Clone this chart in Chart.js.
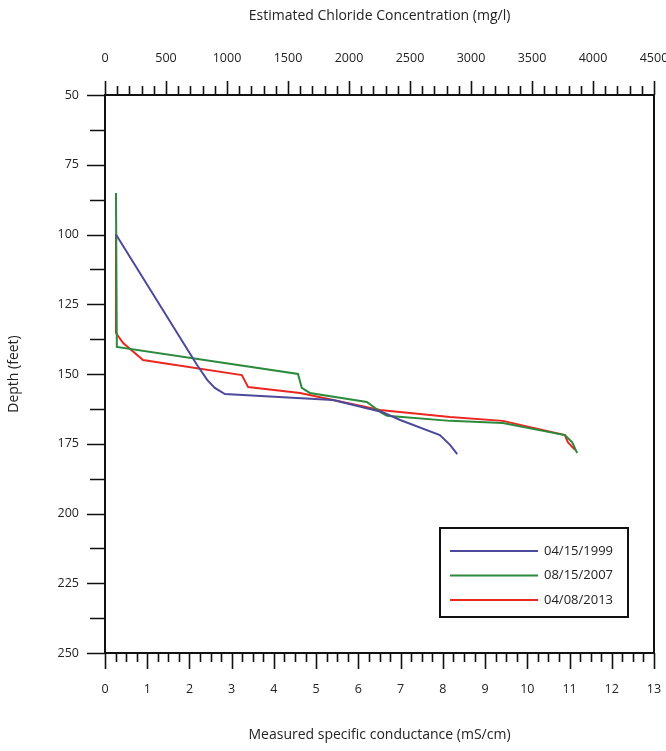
<!DOCTYPE html>
<html lang="en">
<head>
<meta charset="UTF-8">
<title>Specific conductance profile</title>
<script src="https://cdn.jsdelivr.net/npm/chart.js"></script>
<style>
  body { margin: 0; background: #fff; }
  #wrap { width: 666px; height: 751px; }
</style>
</head>
<body>
<div id="wrap"><canvas id="profile" width="666" height="751"></canvas></div>
<script>
// values: measured conductance (mS/cm) against depth (feet)
const labels = ['04/15/1999', '08/15/2007', '04/08/2013'];
const colors = ['#4b4a9c', '#2b8a3c', '#ea2721'];

const cond1999  = [0.26, 2.18, 2.42, 2.60, 2.84, 5.40, 6.56, 6.99, 7.93, 8.17, 8.34];
const depth1999 = [100, 146.8, 152.1, 155.0, 157.2, 159.3, 163.6, 166.5, 171.9, 175.4, 178.7];

const cond2007  = [0.26, 0.28, 4.57, 4.66, 4.85, 6.20, 6.56, 6.68, 8.17, 9.42, 10.89, 11.06, 11.18];
const depth2007 = [85.1, 140.3, 150.0, 155.0, 156.8, 160.0, 164.0, 165.0, 166.8, 167.6, 171.9, 174.4, 178.3];

const cond2013  = [0.26, 0.26, 0.43, 0.90, 3.24, 3.39, 4.62, 5.40, 6.51, 8.17, 9.42, 10.89, 10.96, 11.13];
const depth2013 = [99.8, 135.3, 138.9, 145.0, 150.4, 154.7, 156.8, 159.3, 162.9, 165.4, 166.8, 171.9, 174.4, 177.2];

// axis ticks
const condTicks     = [0, 1, 2, 3, 4, 5, 6, 7, 8, 9, 10, 11, 12, 13];
const chlorideTicks = [0, 500, 1000, 1500, 2000, 2500, 3000, 3500, 4000, 4500];
const depthTicks    = [50, 75, 100, 125, 150, 175, 200, 225, 250];

const toPoints = (xs, ys) => xs.map((x, i) => ({ x: x, y: ys[i] }));
const series = [toPoints(cond1999, depth1999), toPoints(cond2007, depth2007), toPoints(cond2013, depth2013)];

Chart.defaults.font.family = "'Open Sans', 'DejaVu Sans', sans-serif";
Chart.defaults.color = '#222';

// major + minor tick marks and the box frame
const tickMarks = {
  id: 'tickMarks',
  afterDraw(chart) {
    const { ctx, chartArea: a, scales } = chart;
    ctx.save();
    ctx.strokeStyle = '#111';
    ctx.lineWidth = 1.6;
    ctx.beginPath();
    for (let i = 0; i <= 52; i++) {
      const px = Math.round(scales.x.getPixelForValue(i / 4)) + 0.5;
      ctx.moveTo(px, a.bottom);
      ctx.lineTo(px, a.bottom + (i % 4 === 0 ? 16 : 9));
    }
    for (let i = 0; i <= 45; i++) {
      const px = Math.round(scales.x2.getPixelForValue(i * 100)) + 0.5;
      ctx.moveTo(px, a.top);
      ctx.lineTo(px, a.top - (i % 5 === 0 ? 14 : 9));
    }
    for (let i = 0; i <= 16; i++) {
      const py = Math.round(scales.y.getPixelForValue(50 + i * 12.5)) + 0.5;
      ctx.moveTo(a.left, py);
      ctx.lineTo(a.left - (i % 2 === 0 ? 18 : 15), py);
    }
    ctx.stroke();
    ctx.lineWidth = 2;
    ctx.strokeRect(a.left, a.top, a.right - a.left, a.bottom - a.top);
    ctx.restore();
  }
};

// boxed legend inside the plot, lower right
const boxLegend = {
  id: 'boxLegend',
  afterDraw(chart) {
    const { ctx } = chart;
    const bx = 440, by = 528, bw = 188, bh = 89;
    ctx.save();
    ctx.fillStyle = '#fff';
    ctx.fillRect(bx, by, bw, bh);
    ctx.strokeStyle = '#111';
    ctx.lineWidth = 2;
    ctx.strokeRect(bx, by, bw, bh);
    ctx.font = "13px 'Open Sans', sans-serif";
    ctx.textBaseline = 'middle';
    chart.data.datasets.forEach((ds, i) => {
      const y = by + 23 + i * 24.5;
      ctx.strokeStyle = ds.borderColor;
      ctx.lineWidth = 2;
      ctx.beginPath();
      ctx.moveTo(bx + 10, y);
      ctx.lineTo(bx + 98, y);
      ctx.stroke();
      ctx.fillStyle = '#222';
      ctx.fillText(ds.label, bx + 104, y);
    });
    ctx.restore();
  }
};

const plain = v => String(v);

const ctx = document.getElementById('profile').getContext('2d');
new Chart(ctx, {
  type: 'scatter',
  data: {
    datasets: series.map((pts, i) => ({
      label: labels[i],
      data: pts,
      showLine: true,
      borderColor: colors[i],
      backgroundColor: colors[i],
      borderWidth: 2,
      pointRadius: 0,
      tension: 0
    }))
  },
  options: {
    responsive: false,
    animation: false,
    layout: { padding: { left: 0, right: 12, top: 0, bottom: 0 } },
    plugins: { legend: { display: false }, tooltip: { enabled: false } },
    scales: {
      x: {
        type: 'linear', position: 'bottom', min: 0, max: 13,
        afterBuildTicks: s => { s.ticks = condTicks.map(v => ({ value: v })); },
        afterFit: s => { s.height = 98; s.paddingLeft = 0; s.paddingRight = 0; },
        grid: { display: false, drawTicks: false },
        border: { display: false },
        ticks: { padding: 29, font: { size: 12.5 }, maxRotation: 0, callback: plain },
        title: { display: true, text: 'Measured specific conductance (mS/cm)', font: { size: 14 }, padding: { bottom: 8 } }
      },
      x2: {
        type: 'linear', position: 'top', min: 0, max: 4500,
        afterBuildTicks: s => { s.ticks = chlorideTicks.map(v => ({ value: v })); },
        afterFit: s => { s.height = 95; s.paddingLeft = 0; s.paddingRight = 0; },
        grid: { display: false, drawTicks: false },
        border: { display: false },
        ticks: { padding: 29, font: { size: 12.5 }, maxRotation: 0, callback: plain },
        title: { display: true, text: 'Estimated Chloride Concentration (mg/l)', font: { size: 14 }, padding: { top: 8 } }
      },
      y: {
        type: 'linear', position: 'left', min: 50, max: 250, reverse: true,
        afterBuildTicks: s => { s.ticks = depthTicks.map(v => ({ value: v })); },
        afterFit: s => { s.width = 105; s.paddingTop = 0; s.paddingBottom = 0; },
        grid: { display: false, drawTicks: false },
        border: { display: false },
        ticks: { padding: 26, font: { size: 12.5 }, callback: plain },
        title: { display: true, text: 'Depth (feet)', font: { size: 14 }, padding: { top: 6 } }
      }
    }
  },
  plugins: [tickMarks, boxLegend]
});
</script>
</body>
</html>
